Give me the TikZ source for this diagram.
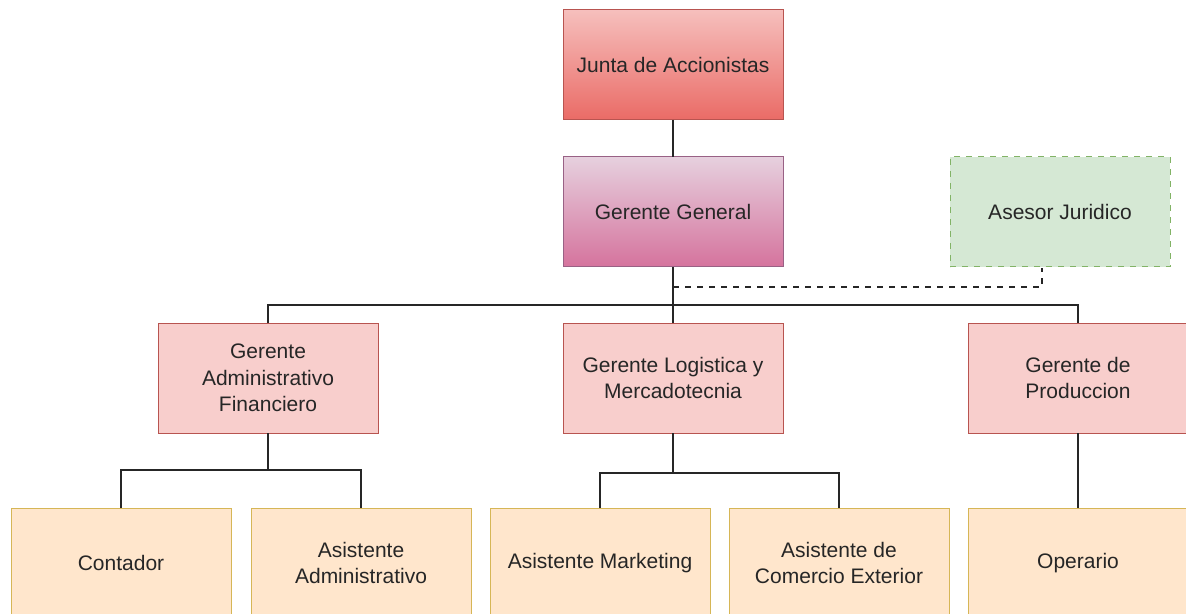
\documentclass[tikz,border=0pt]{standalone}
\usepackage{fontspec}
\setmainfont{Liberation Sans}
\usepackage{tikz}
\definecolor{rosa}{HTML}{F8CECC}
\definecolor{rosaline}{HTML}{B85450}
\definecolor{rojo}{HTML}{EA6B66}
\definecolor{lila}{HTML}{E6D0DE}
\definecolor{malva}{HTML}{D5739D}
\definecolor{malvaline}{HTML}{996185}
\definecolor{verde}{HTML}{D5E8D4}
\definecolor{verdeline}{HTML}{82B366}
\definecolor{crema}{HTML}{FFE6CC}
\definecolor{cremaline}{HTML}{D6B656}

\begin{document}
\begin{tikzpicture}[x=0.5pt,y=-0.5pt,
  box/.style={draw, line width=0.5pt, minimum width=110pt, minimum height=55pt,
    inner sep=0pt, outer sep=0pt, align=center, text=black!85,
    font=\fontsize{10.5}{13.3}\selectfont},
  mid/.style={box, fill=rosa, draw=rosaline},
  low/.style={box, fill=crema, draw=cremaline},
  link/.style={line width=0.75pt, black!85}]
  \useasboundingbox (0,0) rectangle (1186,614);
  % top of the chart
  \node[box, draw=rosaline, top color=rosa!85!rojo, bottom color=rojo] (junta) at (673,65) {Junta de Accionistas};
  \node[box, draw=malvaline, top color=lila, bottom color=malva] (gg) at (673,212) {Gerente General};
  \node[box, fill=verde, draw=verdeline, dashed] (asesor) at (1060,212) {Asesor Juridico};
  % managers
  \node[mid] (gaf) at (268,378) {Gerente\\Administrativo\\Financiero};
  \node[mid] (glm) at (673,378) {Gerente Logistica y\\Mercadotecnia};
  \node[mid] (gp) at (1078,378) {Gerente de\\Produccion};
  % staff
  \node[low] (cont) at (121,563) {Contador};
  \node[low] (asad) at (361,563) {Asistente\\Administrativo};
  \node[low] (amk) at (600,563) {Asistente Marketing};
  \node[low] (ace) at (839,563) {Asistente de\\Comercio Exterior};
  \node[low] (oper) at (1078,563) {Operario};
  % branch points
  \coordinate (bus) at (673,305);
  \coordinate (ga) at (673,287);
  \coordinate (aj) at (1042,268);
  \coordinate (b1) at (268,470);
  \coordinate (b2) at (673,473);
  \draw[link] (junta) -- (gg);
  \draw[link] (gg) -- (bus);
  \draw[link] (gaf.north) |- (bus) -| (gp.north);
  \draw[link] (glm) -- (bus);
  \draw[link, dashed] (ga) -| (aj);
  \draw[link] (gaf) -- (b1);
  \draw[link] (cont.north) |- (b1) -| (asad.north);
  \draw[link] (glm) -- (b2);
  \draw[link] (amk.north) |- (b2) -| (ace.north);
  \draw[link] (gp) -- (oper);
\end{tikzpicture}
\end{document}
